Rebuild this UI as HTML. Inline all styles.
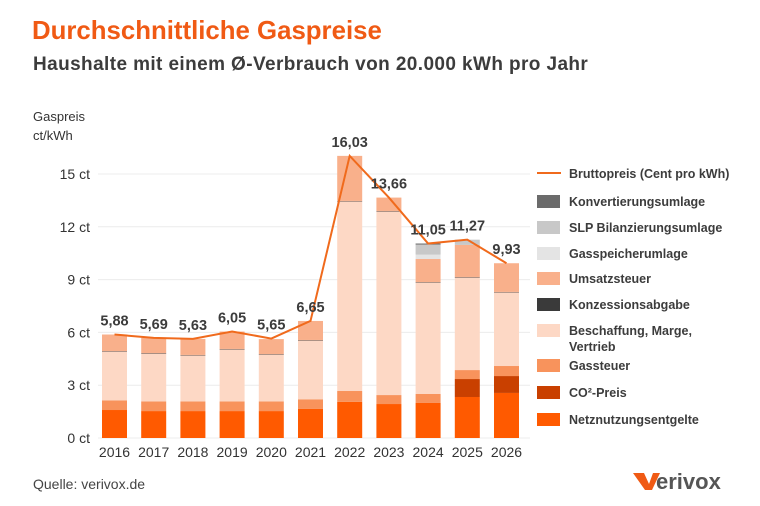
<!DOCTYPE html>
<html><head><meta charset="utf-8">
<style>
body{margin:0;background:#fff;font-family:"Liberation Sans",sans-serif;}
#wrap{position:relative;width:760px;height:506px;overflow:hidden;}
</style></head>
<body>
<div id="wrap">
<svg id="chart" width="760" height="506" xmlns="http://www.w3.org/2000/svg">
<text x="32" y="39" font-size="25.8" font-weight="bold" fill="#f05a14">Durchschnittliche Gaspreise</text>
<text x="33" y="70" font-size="19" font-weight="bold" fill="#3c3c3c" letter-spacing="0.4">Haushalte mit einem Ø-Verbrauch von 20.000 kWh pro Jahr</text>
<text x="33" y="121" font-size="13" fill="#333">Gaspreis</text>
<text x="33" y="140" font-size="13" fill="#333">ct/kWh</text>
<g id="grid"></g><g id="bars"></g><g id="line"></g><g id="labels"></g><g id="legend"></g>
<text x="33" y="489" font-size="14" fill="#444">Quelle: verivox.de</text>
<g>
<path d="M633,473 L644,473 L649,484 L653,473 L660,473 L652,490 L645,490 Z" fill="#f05a14"/>
<text x="656" y="489" font-size="22" font-weight="bold" fill="#555">erivox</text>
</g>
</svg>
</div>
<script>
const years=["2016","2017","2018","2019","2020","2021","2022","2023","2024","2025","2026"];
const totals=[5.88,5.69,5.63,6.05,5.65,6.65,16.03,13.66,11.05,11.27,9.93];
const totalLabels=["5,88","5,69","5,63","6,05","5,65","6,65","16,03","13,66","11,05","11,27","9,93"];
const netz=[1.59,1.53,1.53,1.53,1.53,1.65,2.05,1.93,1.99,2.33,2.56];
const co2=[0,0,0,0,0,0,0,0,0,1.02,0.96];
const gassteuer=[0.55,0.55,0.55,0.55,0.55,0.55,0.62,0.51,0.51,0.51,0.57];
const beschaffung=[2.77,2.72,2.61,2.95,2.66,3.34,10.77,10.43,6.33,5.26,4.18];
const konzession=[0.03,0.03,0.03,0.03,0.03,0.03,0.03,0.03,0.03,0.03,0.03];
const umsatz=[0.94,0.86,0.91,0.99,0.85,1.08,2.56,0.76,1.31,1.82,1.63];
const speicher=[0,0,0,0,0,0,0,0,0.25,0,0];
const slp=[0,0,0,0,0,0,0,0,0.57,0.30,0];
const konvert=[0,0,0,0,0,0,0,0,0.06,0,0];
const yTicks=[0,3,6,9,12,15];
const yTickLabels=["0 ct","3 ct","6 ct","9 ct","12 ct","15 ct"];
const legendLabels=["Bruttopreis (Cent pro kWh)","Konvertierungsumlage","SLP Bilanzierungsumlage","Gasspeicherumlage","Umsatzsteuer","Konzessionsabgabe","Beschaffung, Marge,|Vertrieb","Gassteuer","CO²-Preis","Netznutzungsentgelte"];

const NS="http://www.w3.org/2000/svg";
const y0=438, pxPer=17.6, x0=114.5, step=39.2, bw=25;
const yS=v=>y0-v*pxPer, xS=i=>x0+i*step;
function mk(tag,attrs,parent){const e=document.createElementNS(NS,tag);for(const k in attrs)e.setAttribute(k,attrs[k]);parent.appendChild(e);return e;}
const grid=document.getElementById('grid');
yTicks.forEach((t,i)=>{
  const l=mk('line',{x1:98,x2:530,y1:yS(t),y2:yS(t),stroke:"#ececec","stroke-width":1},grid);
  
  
  const tx=mk('text',{x:90,y:yS(t)+5,"font-size":14,fill:"#333","text-anchor":"end"},grid);
  tx.textContent=yTickLabels[i];
  
  
});
const series=[
 {d:netz,c:"#ff5a00",n:"netznutzung"},
 {d:co2,c:"#c94000",n:"co2-preis"},
 {d:gassteuer,c:"#f8935c",n:"gassteuer"},
 {d:beschaffung,c:"#fdd8c5",n:"beschaffung"},
 {d:konzession,c:"#5a4a44",n:"konzession"},
 {d:umsatz,c:"#f9b08b",n:"umsatzsteuer"},
 {d:speicher,c:"#e4e4e4",n:"gasspeicher"},
 {d:slp,c:"#c8c8c8",n:"slp-umlage"},
 {d:konvert,c:"#6b6b6b",n:"konvertierung"}];
const bars=document.getElementById('bars');
years.forEach((yr,i)=>{
  let acc=0;
  series.forEach(s=>{
    const v=s.d[i]; if(v<=0)return;
    const r=mk('rect',{x:xS(i)-bw/2,y:yS(acc+v),width:bw,height:v*pxPer,fill:s.c},bars);
    
    
    acc+=v;
  });
  const t=mk('text',{x:xS(i),y:457,"font-size":14,fill:"#333","text-anchor":"middle"},bars);
  t.textContent=yr;
  
  
});
const pts=totals.map((v,i)=>xS(i)+','+yS(v)).join(' ');
const pl=mk('polyline',{points:pts,fill:"none",stroke:"#f06a1c","stroke-width":2},document.getElementById('line'));


const lab=document.getElementById('labels');
totals.forEach((v,i)=>{
  const t=mk('text',{x:xS(i),y:yS(v)-9,"font-size":14.5,"font-weight":"bold",fill:"#3c3c3c","text-anchor":"middle"},lab);
  t.textContent=totalLabels[i];
  
  
});
const lg=document.getElementById('legend');
const legColors=[null,"#6b6b6b","#c8c8c8","#e4e4e4","#f9b08b","#3a3a3a","#fdd8c5","#f8935c","#c94000","#ff5a00"];
const legY=[173,201,227,253,278,304,330,365,392,419];
legendLabels.forEach((lbl,i)=>{
  const y=legY[i];
  const g=mk('g',{},lg);
  
  
  if(i===0) mk('line',{x1:537,x2:561,y1:y,y2:y,stroke:"#f06a1c","stroke-width":2},g);
  else mk('rect',{x:537,y:y-6,width:23,height:13,fill:legColors[i]},g);
  lbl.split('|').forEach((p,j)=>{
    const t=mk('text',{x:569,y:y+5+j*16,"font-size":12.5,"font-weight":"bold",fill:"#3c3c3c"},g);
    t.textContent=p;
  });
});
</script>
</body></html>
